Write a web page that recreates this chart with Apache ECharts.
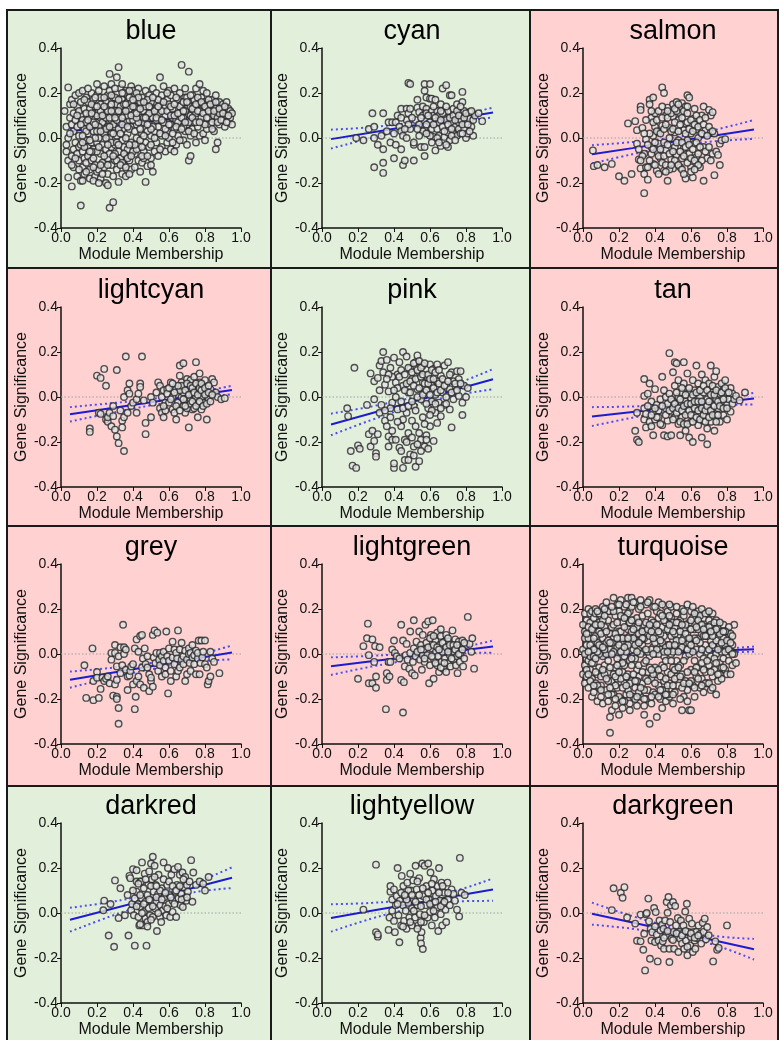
<!DOCTYPE html>
<html><head><meta charset="utf-8">
<script src="https://cdn.jsdelivr.net/npm/echarts@6.0.0/dist/echarts.min.js"></script>
<style>html,body{margin:0;padding:0;background:#fff}#c{width:779px;height:1040px}</style>
</head><body><div id="c"></div>
<script>
// ---------- DATA ----------
const panelNames = ['blue','cyan','salmon','lightcyan','pink','tan','grey','lightgreen','turquoise','darkred','lightyellow','darkgreen'];
const panelGood = [true,true,false,false,true,false,false,false,false,true,true,false];
const xTickValues = [0,0.2,0.4,0.6,0.8,1.0];
const yTickValues = [-0.4,-0.2,0,0.2,0.4];
const zeroLineX = [0,1];
const fitX = [0.05,0.275,0.5,0.725,0.95];
const fitMid = [
 [0.03,0.051,0.073,0.094,0.115],
 [-0.005,0.024,0.054,0.083,0.113],
 [-0.072,-0.045,-0.017,0.010,0.038],
 [-0.077,-0.050,-0.023,0.004,0.031],
 [-0.122,-0.072,-0.022,0.029,0.079],
 [-0.087,-0.067,-0.047,-0.027,-0.007],
 [-0.114,-0.084,-0.054,-0.023,0.007],
 [-0.054,-0.032,-0.011,0.011,0.033],
 [-0.008,0.000,0.007,0.014,0.021],
 [-0.030,0.017,0.064,0.110,0.157],
 [-0.022,0.010,0.041,0.073,0.104],
 [-0.003,-0.042,-0.082,-0.121,-0.161]];
const fitHi = [
 [0.042,0.061,0.081,0.103,0.126],
 [0.037,0.048,0.069,0.096,0.135],
 [-0.032,-0.018,0.002,0.035,0.080],
 [-0.045,-0.028,-0.009,0.016,0.050],
 [-0.074,-0.042,-0.002,0.053,0.124],
 [-0.045,-0.042,-0.032,-0.014,0.019],
 [-0.078,-0.062,-0.040,-0.010,0.038],
 [-0.015,-0.008,0.003,0.022,0.060],
 [0.004,0.007,0.012,0.021,0.033],
 [0.023,0.049,0.084,0.130,0.203],
 [0.039,0.045,0.061,0.095,0.154],
 [0.046,-0.014,-0.064,-0.101,-0.115]];
const fitLo = [
 [0.018,0.041,0.065,0.085,0.104],
 [-0.047,0.000,0.039,0.070,0.091],
 [-0.113,-0.072,-0.036,-0.015,-0.004],
 [-0.109,-0.072,-0.037,-0.008,0.012],
 [-0.170,-0.102,-0.042,0.005,0.034],
 [-0.129,-0.092,-0.062,-0.040,-0.033],
 [-0.150,-0.106,-0.068,-0.036,-0.024],
 [-0.093,-0.056,-0.025,0.000,0.006],
 [-0.020,-0.007,0.002,0.007,0.010],
 [-0.083,-0.015,0.044,0.090,0.111],
 [-0.083,-0.025,0.021,0.051,0.054],
 [-0.052,-0.070,-0.100,-0.141,-0.207]];

// points as flat [x,y, x,y, ...] lists
const bluePts = [.02,.12,.03,.05,.03,-.06,.04,.225,.04,-.175,.04,0,.05,.09,.03,-.03,.05,.15,.04,-.10,
.06,-.215,.06,.17,.07,.03,.06,-.08,.07,.11,.06,.06,.07,-.13,.08,-.02,.08,.19,.07,-.05,.08,.08,
.09,-.17,.09,.14,.10,.01,.10,-.10,.09,.05,.10,.20,.10,-.04,.11,.10,.11,-.30,.11,-.19,.09,-.07,.11,.16,.10,.12,
.12,.21,.12,-.13,.13,.04,.12,-.06,.13,.13,.13,-.16,.12,.08,.14,-.01,.14,.18,.13,-.09,.14,.07,.12,-.19,.14,-.11,
.15,.16,.15,-.04,.16,.10,.16,-.14,.15,.02,.17,.20,.16,-.18,.17,.06,.15,-.08,.17,-.10,.16,.13,.17,-.02,.15,.22,
.18,.17,.18,-.05,.19,.11,.19,-.12,.18,.03,.20,.24,.19,-.17,.20,.07,.18,-.09,.20,-.02,.19,.14,.20,.19,.18,-.19,.20,-.15,
.21,.21,.21,0,.22,.09,.22,-.07,.21,-.14,.23,.15,.22,-.18,.23,.04,.21,.12,.23,-.11,.22,.18,.23,-.03,.21,-.20,
.24,.23,.24,.06,.25,-.05,.25,.13,.24,-.13,.26,.19,.25,-.20,.26,.01,.24,.10,.26,-.09,.25,.16,.26,-.16,.27,.285,.26,-.21,
.27,.21,.27,-.31,.28,.08,.28,-.04,.27,.14,.29,-.285,.28,-.12,.29,.18,.28,.02,.29,-.17,.27,-.07,.29,.11,.28,.24,
.30,.05,.30,-.10,.31,.27,.31,.15,.30,-.03,.32,.315,.31,.20,.32,-.195,.31,-.14,.32,.09,.30,.12,.32,-.06,.31,.01,.33,.22,
.34,.17,.34,-.01,.35,.10,.35,-.12,.34,-.16,.36,.21,.35,.04,.36,-.08,.34,.13,.36,.07,.35,-.04,.36,-.17,.34,.24,
.37,.19,.37,.02,.38,-.10,.38,.13,.37,-.05,.39,.23,.38,.08,.39,-.14,.37,.16,.39,-.02,.38,-.16,.39,.05,.40,.21,
.41,.11,.41,-.07,.42,.17,.42,0,.41,-.13,.43,.22,.42,.06,.43,-.10,.41,.14,.43,-.03,.42,.20,.44,.09,.44,-.15,
.45,.18,.45,.02,.46,-.06,.46,.12,.45,-.11,.47,.21,.46,.07,.47,-.195,.45,.15,.47,-.02,.48,-.125,.48,.10,.47,.04,
.49,.19,.49,-.04,.50,.13,.50,-.09,.49,.06,.51,.22,.50,.01,.51,-.15,.51,.09,.52,-.06,.52,.16,.50,-.12,.52,.03,
.53,.20,.53,-.02,.54,.11,.54,-.08,.55,.27,.54,.05,.55,.15,.56,-.04,.55,.08,.56,.19,.53,.13,.56,.01,.57,.23,
.58,.10,.58,-.06,.59,.17,.59,.03,.60,.21,.59,-.02,.60,.12,.61,.06,.58,.14,.61,-.05,.61,.19,.60,0,.62,.09,
.63,.22,.63,.04,.64,.13,.64,-.03,.65,.17,.64,.08,.65,.01,.66,.20,.66,.11,.63,-.06,.67,.325,.66,.05,.67,.15,
.68,.09,.68,-.01,.69,.18,.69,.03,.70,.13,.69,.22,.70,.06,.71,.295,.71,-.10,.72,-.08,.71,.16,.72,.10,.70,-.03,.72,.01,
.73,.19,.73,.04,.74,.12,.74,.07,.75,.22,.75,-.02,.76,.15,.74,.17,.76,.09,.77,.01,.77,.24,.75,.11,.76,.05,
.78,.13,.78,.18,.79,.07,.79,.21,.80,.11,.79,.02,.80,.16,.81,.04,.81,.20,.82,.09,.82,.14,.80,-.01,.83,.06,
.84,.17,.84,.11,.85,.03,.85,.14,.86,-.05,.86,.19,.86,.08,.87,.12,.87,-.02,.88,.16,.88,.06,.89,.10,.89,.13,
.90,.15,.90,.08,.91,.12,.91,.05,.92,.10,.92,.16,.93,.13,.93,.07,.94,.09,.94,.12,.95,.06,.95,.11,
.14,.03,.16,.05,.17,.15,.19,0,.20,.10,.22,.12,.23,.07,.24,.02,.25,.09,.26,.05,.27,0,.28,.15,.29,.06,.30,.18,.31,.08,
.32,.04,.33,.14,.33,-.09,.34,.06,.35,.15,.36,0,.37,.10,.38,.04,.39,.16,.40,.08,.40,-.06,.41,.03,.42,.13,.43,.07,
.44,.16,.44,-.01,.46,.09,.47,.14,.48,.03,.49,.11,.50,.16,.51,.05,.52,.12,.53,.08,.54,.17,.55,.02,.56,.12,.57,.07,
.58,.04,.59,.12,.60,.15,.61,.10,.62,.13,.62,.02,.63,.10,.64,.18,.65,.07,.66,.14,.67,.09,.68,.16,.68,.05,.69,.12,
.70,.18,.71,.07,.72,.14,.73,.09,.74,.14,.75,.07,.76,.18,.77,.12,.78,.09,.79,.15,.80,.06,.81,.13,.82,.17,.83,.11,
.84,.07,.85,.10,.86,.13,.87,.09,.88,.11,.18,.07,.21,.05,.23,.10,.25,.04,.26,.12,.28,-.02,.29,.02,.30,-.07,.32,.12,
.33,.02,.35,-.07,.37,-.09,.39,.10,.42,-.05,.45,-.04,.46,-.09,.48,.17,.50,.04,.20,-.06,.22,-.12,.17,-.06,.14,.11,
.12,.01,.11,-.03,.13,-.04,.16,-.01,.19,.06,.24,-.08,.27,.05,.31,-.10,.34,-.11,.36,.12,.38,.18,
.05,.02,.06,-.12,.07,.15,.08,-.09,.09,.10,.10,-.14,.11,.06,.12,-.02,.13,.17,.14,-.15,.15,.08,.16,-.06,.17,.11,.18,-.13,
.19,.18,.20,.03,.21,-.04,.22,.15,.23,-.16,.24,.18,.25,0,.26,-.12,.27,.09,.28,.19,.29,-.08,.30,.22,.31,-.02,.32,.17,
.33,-.12,.34,.09,.35,.20,.36,-.13,.37,.05,.38,.21,.39,-.08,.40,.14,.41,-.03,.42,.09,.43,.18,.44,.04,.45,-.08,.46,.16,
.47,.09,.48,-.08,.49,.14,.50,-.03,.51,.18,.52,0,.53,.09,.54,.14,.55,-.05,.56,.08,.57,.16,.58,.01,.59,.20,.60,.06,
.61,.14,.62,-.02,.63,.15,.64,.05,.65,.11,.66,-.01,.67,.04,.68,.12,.69,.07,.70,.16,.71,.03,.72,.19,.73,.13,.74,.02,
.75,.15,.76,.12,.77,.07,.78,.16,.79,.11,.80,.14,.81,.09,.82,.12,.83,.15,.84,.04,.85,.12,.86,.16,.87,.07,.88,.13,
.89,.08,.90,.11,.91,.14,.92,.07,.93,.10,.20,.14,.22,.03,.24,.14,.26,-.03,.28,.12,.30,.09,.32,-.03,.34,.20,.36,.15,
.38,-.03,.40,.17,.42,.11,.44,.13,.46,.01,.48,.06];

const cyanPts = [.19,0,.23,-.01,.26,.04,.28,.11,.29,.05,.29,0,.29,-.13,.31,-.03,.33,.01,.34,.11,.34,-.05,.34,-.11,.34,-.155,
.37,.07,.38,-.02,.39,.07,.40,-.09,.41,.07,.41,-.03,.42,.10,.43,.05,.44,.13,.44,.03,.44,-.05,.45,-.12,.45,.01,.46,-.10,
.47,.13,.48,.11,.47,.08,.48,.245,.49,.24,.49,.13,.49,.04,.51,-.03,.51,-.02,.51,-.10,.52,.08,.53,.135,.53,.17,.54,.115,
.54,.06,.55,-.04,.56,.14,.56,.10,.57,.035,.57,-.04,.57,.24,.57,.21,.57,-.08,.58,.13,.58,.18,.58,.11,.59,.02,.60,.24,
.60,.175,.60,.07,.61,.12,.61,.175,.61,.04,.62,.005,.62,.10,.63,.17,.63,-.055,.64,.12,.64,.04,.65,.07,.65,.01,.65,.10,
.66,-.035,.66,.15,.67,.05,.67,.22,.68,.005,.68,.115,.69,.235,.69,.08,.70,-.04,.70,.025,.70,.12,.71,-.01,.71,.19,.72,.07,
.72,.19,.73,.02,.73,.13,.74,.05,.74,.10,.75,.01,.75,.15,.76,.07,.76,.04,.77,.11,.77,.02,.77,.08,.78,.205,.78,.16,.79,.12,
.79,.04,.80,.065,.80,0,.81,.10,.81,.02,.82,.085,.82,.115,.83,.05,.84,.01,.84,.08,.85,.10,.87,.11,.89,.075,
.55,.09,.56,.03,.58,.06,.59,.10,.60,.01,.62,.06,.63,.09,.64,0,.66,.08,.67,.11,.68,.03,.69,.14,.70,.06,.71,.09,.72,.04,
.73,.10,.74,.08,.75,.12,.76,.10,.77,.14,.78,.06,.79,.09,.80,.11,.81,.06,.82,.03,.83,.12,.78,.02,.72,.01,.66,.12,.62,.14,
.58,.02,.54,.01,.50,.09,.48,.06,.46,.04,.44,.09,.40,.02,.36,.03,.61,-.02,.65,-.02,.69,-.03,.74,-.01,.53,.04,.47,0];

const salmonPts = [.055,-.055,.06,-.125,.08,-.12,.12,-.13,.16,-.115,.20,-.17,.23,-.19,.25,.065,.27,-.16,.29,.075,.30,.035,
.30,-.025,.31,-.095,.32,.14,.32,-.135,.32,.125,.33,.045,.34,-.245,.34,-.07,.34,-.16,.35,-.005,.35,-.13,.36,-.185,.37,.17,
.37,.15,.38,.09,.38,-.04,.39,.18,.39,-.115,.39,.01,.40,.05,.40,.11,.41,-.06,.41,-.145,.42,.025,.42,-.025,.43,-.09,.44,.055,
.44,.225,.45,.20,.45,-.145,.46,.10,.46,-.055,.47,.135,.47,-.19,.48,0,.48,.045,.49,-.095,.50,.095,.50,-.135,.50,.15,.51,-.04,
.51,.025,.52,.16,.52,-.075,.53,.08,.53,-.01,.54,-.13,.54,.11,.55,.155,.55,-.09,.56,.035,.56,-.045,.57,.14,.57,-.18,.57,.065,
.58,.19,.58,-.01,.59,-.07,.59,.18,.60,.02,.60,-.13,.61,.085,.61,-.175,.62,-.025,.62,.13,.63,.04,.63,-.085,.64,0,.65,-.13,
.66,.10,.67,-.19,.67,.14,.67,-.04,.68,.035,.69,-.09,.70,.125,.71,.10,.71,.025,.72,-.07,.72,.115,.73,-.165,.73,.02,.74,-.06,
.75,-.075,.76,-.025,.76,-.12,.77,-.01,.79,-.005,
.36,-.03,.37,.02,.37,-.10,.38,-.07,.39,.07,.40,-.02,.40,-.12,.41,.03,.41,.08,.42,-.08,.42,.12,.43,-.05,.43,.02,.44,-.11,
.44,.09,.45,-.02,.45,.04,.45,-.08,.46,.06,.46,-.12,.47,-.03,.47,.09,.48,-.07,.48,-.14,.49,.03,.49,.11,.50,-.06,.50,.04,
.51,-.10,.51,.07,.52,-.02,.52,.12,.53,-.12,.53,.03,.54,-.06,.54,.06,.55,-.02,.55,.09,.55,-.14,.56,-.08,.56,.12,.57,-.04,
.57,.02,.58,-.11,.58,.07,.58,.11,.59,-.03,.59,.04,.60,-.09,.60,.08,.61,-.05,.61,.03,.62,-.10,.62,.06,.63,-.02,.63,.10,
.64,-.07,.64,.05,.65,-.04,.65,.08,.66,-.10,.66,.02,.67,.06,.68,-.06,.68,.09,.69,.01,.70,-.04,.70,.05,.71,-.10,.72,.03,
.33,-.08,.34,.02,.35,.08,.36,-.13,.38,.12,.39,-.05,.31,-.05,.32,-.10,.44,.14,.47,.12,.51,.13,.53,.15,.56,-.16,.60,-.15,
.64,-.12,.49,-.12,.46,-.15,.42,-.16,.58,.14,.62,-.14];

const lightcyanPts = [.16,-.14,.16,-.155,.20,.095,.22,.085,.21,-.07,.22,-.075,.24,.125,.25,.05,.25,-.10,.26,-.11,.26,-.09,
.27,-.07,.28,-.13,.29,-.04,.29,-.085,.30,-.145,.31,.12,.31,-.175,.32,-.205,.33,-.06,.34,-.105,.34,-.135,.35,-.24,.35,-.09,
.35,0,.36,.18,.37,.03,.37,-.07,.38,.06,.38,.015,.39,-.04,.40,-.025,.42,-.01,.42,-.07,.43,.015,.44,.06,.44,.045,.45,.18,
.46,-.015,.47,-.165,.47,-.115,.50,-.09,.50,0,.51,-.025,.53,.02,.54,.065,.55,-.05,.55,.05,.56,-.07,.56,0,.57,-.09,.57,.03,
.58,-.025,.59,.035,.59,.015,.60,-.025,.61,.065,.62,-.055,.62,0,.63,-.07,.64,.035,.64,-.10,.65,-.025,.66,.14,.66,.095,
.67,.065,.67,0,.68,-.04,.68,.15,.68,.02,.69,-.07,.69,.05,.70,-.01,.70,.08,.71,-.135,.71,-.045,.71,.035,.72,.075,.72,-.015,
.73,.015,.73,-.055,.74,.05,.74,.09,.75,0,.75,.155,.76,-.09,.76,-.03,.76,.03,.77,.105,.77,.065,.78,-.055,.78,0,.79,.02,
.79,.05,.80,-.025,.80,.075,.81,.015,.81,-.10,.82,-.01,.83,.035,.84,.08,.85,.065,.86,.02,.87,0,.89,-.01,.91,-.005,
.66,.03,.67,.05,.68,-.01,.69,.03,.70,.06,.70,-.05,.71,.01,.72,.05,.72,-.03,.73,.04,.73,-.02,.74,.02,.74,-.05,.75,.06,
.75,-.04,.76,.01,.77,.04,.77,-.02,.78,.06,.78,.03,.79,-.04,.80,.01,.80,.04,.81,-.03,.82,.05,.82,.02,.83,-.02,.84,.01,
.63,.02,.64,-.04,.65,.05,.61,-.01,.60,.04,.58,-.06,.62,.06,.57,-.04,.66,-.06,.69,-.04];

const pinkPts = [.14,-.05,.145,-.085,.16,-.24,.17,-.305,.18,.13,.19,-.315,.20,-.215,.21,-.23,.25,-.035,.26,-.165,.27,.105,
.27,-.22,.28,-.15,.29,.07,.29,-.01,.29,-.195,.30,-.25,.30,-.265,.31,-.165,.31,.085,.32,.14,.32,-.07,.32,.03,.33,.16,
.33,-.035,.34,.20,.34,.11,.35,.055,.35,-.105,.36,.165,.36,-.13,.37,-.175,.37,-.22,.37,.025,.38,-.09,.38,.13,.39,-.19,
.39,-.025,.40,-.315,.40,.175,.40,-.295,.41,.065,.41,-.19,.42,-.055,.42,.10,.43,-.225,.43,.155,.44,-.13,.44,-.02,.45,-.315,
.45,.20,.45,.05,.46,-.28,.46,-.19,.47,.18,.47,-.07,.48,.02,.48,-.16,.49,-.255,.49,.125,.50,-.105,.50,.08,.51,-.26,.51,-.22,
.51,-.04,.52,-.31,.52,.155,.53,.035,.53,.185,.54,-.16,.54,-.285,.54,.11,.55,-.01,.55,-.19,.56,.065,.56,-.09,.56,.14,
.57,-.22,.57,.02,.58,-.17,.58,.095,.59,-.05,.59,-.23,.60,.145,.60,-.13,.61,.05,.61,-.02,.62,-.195,.62,.125,.63,-.07,
.63,.01,.64,-.115,.64,.145,.64,.07,.65,-.025,.66,-.085,.66,.095,.67,.02,.68,-.035,.68,.14,.69,.055,.69,0,.70,.155,
.71,-.055,.71,.035,.72,.11,.72,-.135,.73,-.01,.73,.07,.74,.025,.75,.115,.76,.005,.76,.08,.77,.115,.78,-.025,.78,-.08,
.79,.05,.80,0,.81,.04,
.41,0,.42,.04,.43,.09,.44,.12,.45,-.05,.46,.03,.46,.10,.47,.06,.48,.13,.48,-.04,.49,.02,.49,.07,.50,.11,.50,-.02,.51,.05,
.51,.15,.52,.08,.52,-.06,.53,.12,.53,0,.54,.04,.54,.16,.55,.09,.55,.13,.56,.01,.56,.10,.57,.06,.57,.15,.58,.03,.58,-.03,
.59,.10,.59,.06,.60,.01,.60,.08,.61,.12,.61,-.06,.62,.04,.62,.08,.63,.11,.63,-.03,.64,.02,.65,.06,.65,.12,.66,.03,.66,-.05,
.67,.08,.68,.05,.69,-.03,.70,.07,.71,.10,.72,.02,.74,.06,.75,.03,.77,.06,.39,.09,.37,.10,.38,-.05,.40,.03,.35,-.06,.36,.08,
.47,-.20,.45,-.10,.50,-.18,.52,-.13,.53,-.21,.55,-.24,.57,-.12,.42,-.11,.39,-.15,.44,-.24,.48,-.28,.58,-.19,.60,-.08];

const tanPts = [.29,-.15,.30,-.19,.31,-.20,.30,-.07,.34,.08,.34,.005,.34,-.05,.34,-.10,.35,-.135,.35,-.075,.36,.015,.37,-.11,
.37,.06,.38,-.13,.38,-.02,.39,-.17,.39,-.065,.40,.035,.40,-.10,.41,-.035,.42,-.09,.43,-.01,.44,.09,.44,-.125,.45,.03,
.45,-.17,.46,-.05,.46,0,.47,-.175,.47,-.105,.48,.015,.48,.195,.49,-.065,.49,-.17,.50,.11,.50,-.02,.51,.155,.51,.05,
.51,-.09,.52,.15,.53,0,.53,-.12,.53,.075,.54,-.17,.54,-.045,.55,.02,.55,-.09,.56,.06,.56,.155,.57,-.15,.57,-.02,.58,.105,
.58,-.065,.59,.02,.59,-.18,.60,-.11,.60,-.005,.61,.075,.61,-.055,.61,-.20,.62,.03,.62,-.095,.63,.14,.63,-.035,.64,-.125,
.64,.06,.65,0,.65,-.075,.66,-.18,.66,.10,.67,-.105,.67,.02,.68,-.035,.68,.075,.69,-.14,.69,-.21,.69,-.01,.70,-.065,.70,.06,
.71,.14,.71,-.11,.72,.02,.72,-.035,.73,.09,.73,-.15,.74,.115,.74,-.075,.74,-.01,.75,.045,.75,-.05,.76,-.11,.76,.015,
.77,.06,.77,-.02,.78,-.08,.78,.03,.79,0,.79,.075,.80,-.035,.80,-.10,.80,.02,.81,-.01,.82,-.065,.82,.04,.83,-.03,.83,.015,
.84,-.01,.85,.005,.87,-.015,.90,.02,
.46,-.08,.47,-.03,.48,-.06,.49,-.01,.50,-.10,.50,-.05,.51,-.03,.52,-.07,.52,.02,.53,-.05,.54,-.11,.54,-.01,.55,-.06,.55,.04,
.56,-.04,.56,-.12,.57,-.08,.57,.01,.58,-.03,.58,-.12,.59,-.06,.59,.04,.60,-.08,.60,-.03,.61,-.11,.61,.01,.62,-.05,.62,-.02,
.63,-.09,.63,.02,.64,-.06,.64,-.02,.65,-.10,.65,.03,.66,-.05,.66,-.02,.67,-.08,.67,.05,.68,-.06,.68,-.11,.69,-.04,.69,.03,
.70,-.09,.70,-.02,.71,-.06,.71,.01,.72,-.08,.72,.05,.73,-.04,.73,.01,.74,-.11,.74,.03,.75,-.02,.75,-.08,.76,-.04,.77,.02,
.78,-.05,.78,-.01,.79,.04,.80,-.05,.81,.02,.42,-.06,.43,-.12,.44,-.04,.41,-.09,.40,-.05,.38,-.08,.36,-.04];

const greyPts = [.13,-.05,.14,-.195,.175,.025,.18,-.12,.18,-.205,.20,-.08,.20,-.105,.21,-.195,.22,-.155,.23,-.105,.24,-.12,
.25,-.11,.26,-.10,.27,-.13,.28,.005,.28,-.025,.29,-.185,.30,.005,.30,.04,.30,-.135,.31,-.055,.31,-.19,.31,-.115,.31,-.20,
.32,-.24,.32,-.31,.32,-.01,.33,.03,.33,-.085,.34,-.05,.345,.13,.35,.03,.35,0,.36,.02,.36,-.07,.37,-.10,.37,-.16,.38,-.095,
.385,-.075,.39,-.055,.40,-.135,.40,-.045,.41,.025,.41,-.245,.415,-.19,.42,.065,.42,-.12,.43,.01,.43,-.10,.44,.08,.44,-.135,
.45,-.06,.45,.085,.455,-.02,.46,-.15,.465,.025,.47,-.045,.48,-.01,.48,-.06,.49,-.09,.49,-.165,.50,-.12,.50,-.105,.51,-.145,
.51,.085,.515,-.015,.52,.105,.525,-.04,.53,.005,.535,.095,.54,-.075,.545,-.025,.55,.005,.55,-.05,.56,-.01,.56,-.10,.57,-.03,
.57,.01,.58,-.06,.58,-.09,.585,.10,.59,-.01,.595,-.175,.60,.025,.60,-.03,.61,-.12,.61,-.075,.62,.055,.62,-.015,.63,-.045,
.63,.02,.64,-.10,.64,.005,.645,-.02,.65,-.075,.65,.105,.66,-.06,.66,.02,.67,-.025,.67,.05,.68,-.045,.68,-.01,.69,-.12,
.69,.015,.70,-.09,.70,-.025,.71,.025,.71,0,.715,-.04,.72,.005,.72,-.075,.73,.04,.73,-.015,.74,-.005,.74,-.045,.75,.015,
.75,-.09,.76,-.02,.76,.005,.765,.06,.77,-.09,.775,-.04,.78,.06,.785,-.015,.79,.01,.80,.06,.80,-.045,.81,-.06,.815,-.135,
.82,-.12,.83,.01,.83,-.10,.84,-.02,.85,-.035,.88,-.085];

const lightgreenPts = [.20,-.11,.23,.035,.25,.07,.255,.135,.26,-.005,.26,-.13,.28,.065,.28,-.13,.29,-.035,.295,.035,.30,-.10,
.30,-.15,.32,.03,.355,-.245,.36,-.085,.36,-.115,.37,-.035,.375,-.10,.38,-.035,.39,.02,.40,.06,.405,.005,.415,-.01,.43,-.02,
.44,.13,.44,-.115,.45,.06,.45,-.26,.455,-.125,.46,-.055,.465,-.005,.47,.045,.475,-.025,.485,-.065,.49,.005,.49,.10,.50,-.085,
.505,-.035,.51,.025,.51,.15,.515,-.095,.52,-.01,.525,.055,.53,.01,.54,.10,.545,-.025,.55,.04,.555,-.07,.56,-.005,.56,.085,
.565,.02,.57,-.035,.575,.13,.58,.05,.585,-.005,.59,.145,.595,-.13,.60,-.05,.605,.085,.61,.025,.615,.15,.62,-.11,.62,-.02,
.63,.06,.633,.01,.64,-.05,.64,.095,.645,-.01,.65,-.08,.655,.04,.66,.08,.665,-.035,.67,.01,.673,-.065,.68,.055,.683,-.02,
.69,.085,.69,-.08,.70,.025,.70,-.04,.705,.055,.71,-.005,.714,-.055,.72,.035,.725,.105,.73,-.025,.734,.01,.74,.065,.744,-.05,
.75,-.01,.753,-.085,.757,.025,.76,.055,.766,-.035,.77,-.005,.78,.06,.784,-.055,.79,-.02,.80,.04,.81,.165,.82,.045,.83,.01,
.835,.07,.845,-.065,
.55,.02,.57,-.02,.59,.03,.60,.07,.61,-.01,.62,.04,.63,-.04,.64,.03,.65,.02,.66,-.06,.67,.05,.68,-.04,.69,.03,.70,.07,
.71,.04,.72,-.02,.73,.04,.74,.02,.75,.04,.76,0,.78,.02,.79,.05,.62,.08,.66,.11,.70,.01];

const turquoisePts = [0,.02,.01,-.05,0,-.09,.01,.10,.02,.15,.01,-.13,.02,.04,0,.13,.02,-.02,.01,.07,.02,-.10,.01,.18,
.03,.20,.03,-.15,.04,.01,.03,.09,.04,-.07,.04,.14,.05,-.19,.03,-.03,.05,.05,.04,.18,.05,-.11,.03,.12,.05,.19,.04,-.01,
.06,.12,.06,-.04,.07,.08,.06,-.17,.07,.20,.08,-.09,.07,.02,.06,.16,.08,-.21,.08,.05,.07,-.13,.08,.13,.06,-.01,.07,.18,
.09,.10,.09,-.06,.10,.03,.10,.17,.09,-.15,.11,-.01,.10,-.19,.11,.21,.09,.14,.11,.07,.10,-.10,.11,-.22,.09,0,.12,.12,.12,-.05,
.13,.23,.13,.05,.14,-.08,.14,.15,.13,-.16,.15,-.35,.15,.09,.14,-.21,.15,-.28,.13,0,.15,.19,.14,-.03,.16,-.12,.16,.12,.15,.02,.16,-.25,
.17,.25,.17,.07,.18,-.06,.18,.17,.17,-.18,.19,.03,.18,-.23,.19,.22,.17,.13,.19,-.11,.20,-.27,.18,0,.20,.10,.19,-.15,.20,.19,.20,-.04,
.21,.24,.21,.05,.22,-.08,.22,.14,.21,-.20,.23,-.01,.22,-.24,.23,.21,.21,.10,.23,-.13,.24,.17,.22,.02,.24,-.18,.24,.07,.23,-.05,
.25,.25,.25,.11,.26,-.03,.26,.19,.25,-.16,.27,.05,.26,-.22,.27,.25,.25,-.09,.28,.15,.27,-.12,.28,-.01,.26,.08,.28,-.19,.27,.21,.28,.02,
.29,.23,.29,.09,.30,-.07,.30,.16,.29,-.15,.31,.02,.30,-.23,.31,.20,.29,-.02,.32,.12,.31,-.10,.32,-.19,.30,.06,.32,.24,.31,-.05,.33,.17,
.33,.04,.34,-.27,.34,.13,.33,-.13,.35,.22,.34,-.04,.35,-.20,.35,.09,.36,-.08,.36,.18,.34,.01,.36,-.16,.37,.24,.37,-.31,.36,.06,.37,-.01,
.38,.15,.38,-.11,.39,.21,.39,.03,.38,-.22,.40,-.06,.40,.11,.39,-.17,.41,.19,.41,-.28,.40,0,.41,.07,.42,-.14,.42,.16,.41,-.09,.42,.23,
.43,.02,.43,-.20,.44,.12,.44,-.05,.43,.18,.45,-.12,.45,.08,.44,-.24,.46,.21,.45,-.01,.46,-.16,.46,.14,.47,.04,.47,-.08,.47,.19,.46,-.21,
.48,.10,.48,-.13,.49,.16,.49,0,.48,-.19,.50,.06,.50,-.06,.49,.21,.51,-.17,.51,.12,.50,-.22,.51,.02,.52,-.10,.52,.18,.52,-.03,.50,.14,
.53,.08,.53,-.14,.54,.15,.54,-.05,.55,-.25,.55,.20,.54,.02,.56,-.19,.56,.11,.55,-.09,.57,.05,.57,-.12,.56,.17,.57,-.01,.58,.22,.58,-.16,
.58,.09,.59,-.25,.59,.14,.60,-.25,.59,0,.60,.19,.60,-.07,.61,.06,.61,-.14,.61,.21,.62,.11,.62,-.03,.62,-.19,.63,.16,.63,.02,.63,-.10,
.64,.19,.64,.07,.64,-.06,.65,.13,.65,-.15,.65,0,.66,.20,.66,-.11,.66,.09,.67,-.02,.67,.16,.67,-.17,.68,.04,.68,.12,.68,-.08,.69,.18,
.69,-.13,.69,.01,.70,.09,.70,-.05,.70,.15,.71,-.16,.71,.06,.71,-.01,.72,.12,.72,-.10,.72,.18,.73,.03,.73,-.07,.73,.10,.74,-.18,.74,.15,
.74,0,.75,-.12,.75,.07,.75,.12,.76,-.04,.76,.04,.76,-.09,.77,.10,.77,.01,.77,-.06,.78,.07,.78,-.02,.78,.13,.79,.04,.79,-.07,.80,-.09,
.80,.02,.80,.10,.81,.06,.81,-.03,.82,-.09,.82,.09,.82,.01,.83,.04,.83,-.05,.84,.13,.84,0,.85,-.04,.83,.08,.81,.12,
.02,-.07,.03,.07,.04,-.12,.05,.11,.06,.07,.07,-.08,.08,.01,.09,.18,.10,.09,.10,-.14,.11,.15,.12,-.09,.12,.02,.13,.10,.14,-.12,
.14,.19,.15,-.06,.16,.05,.16,-.18,.17,.01,.17,-.09,.18,.09,.18,-.14,.19,.14,.19,-.02,.20,-.19,.20,.04,.21,.17,.21,-.11,.22,.07,
.22,-.15,.23,.12,.23,-.21,.24,.01,.24,-.10,.25,.04,.25,.18,.26,-.13,.26,.14,.27,-.05,.27,.10,.28,.07,.28,-.09,.29,.04,.29,-.20,
.30,.12,.30,-.12,.31,.09,.31,-.17,.32,0,.32,.06,.33,-.08,.33,.10,.34,-.16,.34,.07,.35,.14,.35,-.11,.36,.01,.36,.11,.37,-.06,
.37,.08,.38,.02,.38,.10,.39,-.09,.39,.14,.40,.05,.40,-.13,.41,.13,.42,0,.42,-.07,.43,.09,.43,-.10,.44,.05,.44,-.16,.45,.15,
.45,-.06,.46,.03,.46,-.11,.47,.11,.47,-.14,.48,.04,.48,.17,.49,-.09,.49,.08,.50,-.14,.50,.01,.51,.09,.51,-.07,.52,.06,.53,.14,
.53,-.06,.54,.10,.55,.03,.55,-.15,.56,-.03,.56,.07,.57,.13,.58,-.08,.59,.05,.60,.11,.60,-.12,.61,.01,.62,.07,.63,-.06,.64,.11,
.65,.05,.66,-.04,.67,.08,.68,-.13,.69,.08,.70,.02,.71,.13,.72,.04,.73,-.02,.74,.06,.76,.09,.77,-.11,.79,.10,
.01,0,.02,.09,.03,-.09,.04,.04,.05,-.04,.06,.02,.07,.13,.08,-.14,.09,.04,.10,.13,.11,-.07,.12,.17,.13,-.11,.14,.06,.15,-.15,
.16,0,.17,.19,.18,-.10,.19,.07,.20,-.08,.21,.01,.22,-.04,.23,.16,.24,-.14,.25,.07,.26,-.18,.27,.15,.28,.11,.29,-.12,.30,.01,
.31,.14,.32,-.15,.33,.07,.34,-.20,.35,.02,.36,-.12,.37,.13,.38,-.07,.39,.07,.40,-.18,.41,.02,.42,.10,.43,-.16,.44,.17,.45,.01,
.46,-.03,.47,-.18,.48,.13,.49,-.03,.50,.10,.51,-.11,.52,.14,.53,.01,.54,-.10,.55,.13,.56,-.13,.57,.09,.58,.02,.59,-.13,.60,.04,
.61,.16,.62,-.08,.63,.06,.64,-.11,.65,.17,.66,.02,.67,-.07,.68,.08,.69,-.03,.70,.12,.71,-.08,.72,.08,.73,.14,.74,-.04,.75,.02,
.76,.14,.77,.05,.78,-.06,.79,.01,.80,.06,.81,.02,.82,.05,.83,0,.60,.15,.62,.18,.64,.15,.66,.13,.68,.18,.70,.19,.56,.19,.52,.21,
.48,.22,.44,.22,.40,.21,.36,.23,.32,.21,.28,.23,.24,.22,.20,.22,.16,.21,.12,.20,.08,.19,.58,-.21,.54,-.20,.50,-.18,.46,-.18,
.42,-.19,.38,-.19,.34,-.23,.30,-.19,.26,-.25,.22,-.21,.18,-.20,.14,-.18,.10,-.16,.06,-.14,.62,-.15,.66,-.14,.70,-.13,.72,-.15,
.75,-.09,.78,.10,.74,.11,.71,.10,.67,.11,.63,.12,.59,.07,.55,.06,.51,.04,.47,.01,.43,.06,.39,0,.35,-.03,.31,.05,.27,-.02,
.23,.03,.19,-.05,.15,.05,.11,.03,.07,-.02,.03,.01];

const darkredPts = [.235,.012,.24,.055,.265,-.10,.275,.04,.295,-.15,.30,.145,.32,-.022,.33,.11,.355,-.01,.37,.08,.375,-.10,
.38,.165,.385,.155,.39,.012,.395,.04,.40,.195,.405,-.01,.41,-.145,.41,.065,.42,.19,.42,.14,.42,.095,.43,-.018,.43,.04,
.435,-.055,.44,.14,.44,.027,.445,.14,.45,.225,.45,.065,.455,-.055,.46,.005,.465,.175,.47,.05,.47,-.025,.475,-.145,.48,.08,
.48,-.04,.485,.125,.487,.022,.49,.185,.495,-.01,.50,.22,.50,.055,.505,.15,.51,.25,.51,-.018,.515,.095,.52,.21,.525,.02,
.526,.125,.53,.05,.533,-.08,.54,.085,.542,.17,.55,-.018,.552,.035,.557,-.04,.56,.11,.566,.012,.57,.225,.574,.07,.58,.03,
.585,-.01,.59,.125,.594,.20,.60,.04,.603,.08,.607,-.018,.613,.17,.62,.055,.62,.005,.63,.195,.635,.095,.64,-.018,.645,.125,
.65,.205,.653,.065,.66,.17,.665,.035,.668,.085,.675,.18,.677,.027,.683,.115,.686,.065,.69,.16,.696,.055,.70,.125,.705,.095,
.714,.14,.723,.235,.73,.05,.735,.18,.75,.125,.77,.14,.79,.13,.80,.10,.82,.16,
.40,.10,.42,.03,.43,.13,.44,.08,.45,0,.46,.11,.47,.15,.48,-.06,.49,.06,.50,.12,.51,.03,.52,.16,.53,.07,.54,0,.55,.10,
.56,.06,.57,.15,.58,.09,.59,.02,.60,.14,.61,.07,.62,.12,.63,.04,.64,.10,.66,.12,.67,.06,.68,.15,.70,.07,.46,.04,.44,-.05,
.50,-.03,.53,.12];

const lightyellowPts = [.23,.015,.30,.215,.30,-.085,.31,-.105,.31,-.095,.37,-.075,.375,-.02,.38,.095,.38,.12,.39,.01,.39,.06,
.40,-.035,.40,.105,.405,-.085,.41,.035,.415,.075,.42,.20,.425,-.01,.43,-.13,.433,.055,.44,-.055,.443,.165,.45,.035,.452,.12,
.456,-.035,.46,.075,.465,.01,.47,-.07,.474,.135,.48,.045,.485,-.02,.49,.175,.493,.10,.50,-.055,.50,.02,.507,.145,.51,.06,
.517,-.02,.52,.21,.526,.105,.53,.035,.535,-.055,.54,.155,.544,-.005,.548,-.11,.55,-.135,.553,-.085,.557,.22,.56,-.16,.563,.075,
.566,-.04,.57,.21,.576,.035,.58,.12,.587,-.02,.59,.22,.594,.06,.60,.005,.603,.18,.61,-.055,.613,.10,.62,.045,.622,.15,
.627,-.02,.633,.075,.64,.025,.642,.12,.646,-.08,.65,.20,.655,.055,.66,-.005,.664,.135,.668,-.055,.673,.04,.68,.09,.686,.015,
.69,-.04,.697,.135,.70,.06,.71,.035,.72,.105,.73,.085,.738,.055,.75,.015,.762,-.015,.766,.245,.775,.09,.793,.08,
.42,.04,.44,.09,.45,-.06,.47,.06,.48,.10,.49,-.04,.50,.08,.51,.01,.52,.05,.53,.14,.54,.08,.55,.03,.56,.11,.57,-.01,.58,.06,
.59,.09,.60,.04,.61,.13,.62,.01,.63,.05,.65,.09,.66,.03,.67,.12,.68,.05,.70,.09,.55,-.04,.53,-.07,.46,.08];

const darkgreenPts = [.17,.11,.16,.013,.21,.09,.22,.068,.23,.115,.245,-.02,.29,-.047,.30,-.123,.32,-.126,.32,-.007,.335,-.163,
.34,-.092,.345,-.255,.35,-.006,.354,0,.363,.064,.367,-.037,.372,-.203,.376,-.07,.38,-.122,.385,-.085,.395,.022,.40,-.129,
.404,.004,.41,-.096,.415,-.215,.42,-.122,.425,-.033,.43,-.077,.434,-.144,.44,-.052,.443,-.126,.447,-.07,.45,-.159,.456,-.033,
.46,-.10,.465,.049,.47,.001,.475,.071,.48,-.159,.48,-.218,.484,-.04,.488,.034,.493,-.114,.50,.049,.503,-.084,.506,-.159,
.512,.031,.517,-.055,.52,-.107,.527,-.022,.53,-.173,.535,-.084,.54,-.114,.544,-.033,.55,-.136,.553,-.092,.558,-.055,.562,-.159,
.568,.007,.572,-.122,.577,.041,.58,-.188,.587,-.084,.59,-.025,.596,-.144,.60,-.107,.605,-.047,.61,-.173,.615,-.084,.62,-.122,
.624,-.159,.63,-.084,.633,-.111,.642,-.055,.652,-.092,.657,-.136,.665,-.043,.67,-.084,.676,-.025,.683,-.117,.69,-.062,
.698,-.099,.723,-.215,.735,-.126,.745,-.163,.754,-.155,.80,-.055,
.50,-.12,.52,-.09,.55,-.10,.57,-.08,.58,-.15,.60,-.09,.62,-.11,.64,-.10,.45,-.11,.47,-.08,.40,-.06];

const pointLists = [bluePts,cyanPts,salmonPts,lightcyanPts,pinkPts,tanPts,greyPts,lightgreenPts,turquoisePts,darkredPts,lightyellowPts,darkgreenPts];

// ---------- LAYOUT / STYLE ----------
const FONT = '"Liberation Sans", Arial, Helvetica, sans-serif';
const colLeft = [61, 322, 583];
const rowTop = [48, 307, 564, 823];
const plotW = 180, plotH = 180;
const cellX = [7, 271, 530], cellW = [264, 259, 248];
const cellY = [10, 268, 526, 786], cellH = [258, 258, 260, 262];
const GREEN = '#e2efda', PINK = '#ffd1d1';

function toPairs(a){ const r=[]; for(let k=0;k<a.length;k+=2) r.push([a[k],a[k+1]]); return r; }

const grids=[], xAxes=[], yAxes=[], series=[], graphics=[];
panelNames.forEach((name,i)=>{
  const r=Math.floor(i/3), c=i%3;
  graphics.push({type:'rect', silent:true, z:-100,
    shape:{x:cellX[c], y:cellY[r], width:cellW[c], height:cellH[r]},
    style:{fill: panelGood[i]?GREEN:PINK, stroke:'#1a1a1a', lineWidth:2}});
  graphics.push({type:'text', silent:true, z:100,
    x: colLeft[c]+plotW/2, y: rowTop[r]-16,
    style:{text:name, font:'27px '+FONT, fill:'#000', textAlign:'center', textVerticalAlign:'middle', align:'center', verticalAlign:'middle'}});
  grids.push({left:colLeft[c], top:rowTop[r], width:plotW, height:plotH});
  const axisCommon = {
    type:'value', gridIndex:i, nameLocation:'middle',
    nameTextStyle:{fontFamily:FONT, fontSize:16, color:'#111'},
    axisLine:{show:true, onZero:false, lineStyle:{color:'#111', width:1.5}},
    axisTick:{show:true, length:4, lineStyle:{color:'#111', width:1}},
    splitLine:{show:false},
    axisLabel:{fontFamily:FONT, fontSize:14, color:'#111', margin:3, formatter:v=>Number(v).toFixed(1)}
  };
  xAxes.push(Object.assign({}, axisCommon, {min:xTickValues[0], max:xTickValues[xTickValues.length-1], interval:0.2,
    name:'Module Membership', nameGap:19}));
  yAxes.push(Object.assign({}, axisCommon, {min:yTickValues[0], max:yTickValues[yTickValues.length-1], interval:0.2,
    name:'Gene Significance', nameGap:28}));
  series.push({type:'line', xAxisIndex:i, yAxisIndex:i, silent:true, symbol:'none', z:1,
    data: zeroLineX.map(x=>[x,0]), lineStyle:{color:'#a0a0a0', width:1, type:[1.5,2]}});
  series.push({type:'line', xAxisIndex:i, yAxisIndex:i, silent:true, symbol:'none', z:2, smooth:0.4,
    data: fitX.map((x,k)=>[x,fitHi[i][k]]), lineStyle:{color:'#4d4df0', width:2, type:[2,3]}});
  series.push({type:'line', xAxisIndex:i, yAxisIndex:i, silent:true, symbol:'none', z:2, smooth:0.4,
    data: fitX.map((x,k)=>[x,fitLo[i][k]]), lineStyle:{color:'#4d4df0', width:2, type:[2,3]}});
  series.push({type:'line', xAxisIndex:i, yAxisIndex:i, silent:true, symbol:'none', z:3,
    data: fitX.map((x,k)=>[x,fitMid[i][k]]), lineStyle:{color:'#1c1cd2', width:2}});
  series.push({type:'scatter', xAxisIndex:i, yAxisIndex:i, silent:true, z:4,
    data: toPairs(pointLists[i]), symbol:'circle', symbolSize:6.5,
    itemStyle:{color:'#e2e2e2', borderColor:'#282828', borderWidth:1.4}});
});

const chart = echarts.init(document.getElementById('c'), null, {renderer:'canvas'});
chart.setOption({
  animation:false,
  backgroundColor:'#ffffff',
  grid:grids, xAxis:xAxes, yAxis:yAxes, series:series,
  graphic:{elements:graphics}
});
</script></body></html>
